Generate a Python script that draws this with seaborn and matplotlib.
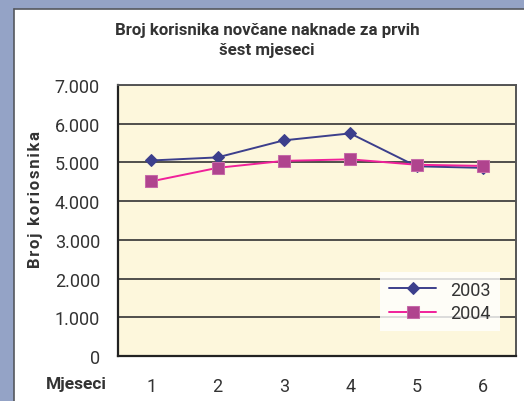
import numpy as np
import pandas as pd
import matplotlib.pyplot as plt
import matplotlib.patches as mpatches
import matplotlib.lines as mlines
from matplotlib.ticker import FuncFormatter, FixedLocator
import seaborn as sns

# Podaci (očitano s grafa)
mjeseci = [1, 2, 3, 4, 5, 6]
korisnici_2003 = [5050, 5130, 5570, 5750, 4900, 4860]
korisnici_2004 = [4510, 4860, 5040, 5080, 4940, 4910]

df = pd.DataFrame({
    'mjesec': mjeseci * 2,
    'broj': korisnici_2003 + korisnici_2004,
    'godina': ['2003'] * 6 + ['2004'] * 6,
})

sns.set_theme(style='white')
plt.rcParams['font.family'] = ['Roboto', 'DejaVu Sans']

fig = plt.figure(figsize=(5.24, 4.02), dpi=100)
fig.patch.set_facecolor('white')

# plavi okvir oko panela
blue = '#94a3c6'
fig.patches.append(mpatches.Rectangle((0, 0), 14 / 524, 1, transform=fig.transFigure,
                                      facecolor=blue, edgecolor='none', zorder=0))
fig.patches.append(mpatches.Rectangle((0, 1 - 10 / 402), 1, 10 / 402, transform=fig.transFigure,
                                      facecolor=blue, edgecolor='none', zorder=0))
fig.lines.append(mlines.Line2D([14 / 524, 14 / 524], [0, 1 - 10 / 402], transform=fig.transFigure,
                               color='#55585e', lw=1.2))
fig.lines.append(mlines.Line2D([14 / 524, 1], [1 - 10 / 402, 1 - 10 / 402], transform=fig.transFigure,
                               color='#55585e', lw=1.2))

ax = fig.add_axes([118 / 524, 45 / 402, 398 / 524, 271 / 402])
ax.set_facecolor('#fdf7dc')

sub03 = df[df['godina'] == '2003']
sub04 = df[df['godina'] == '2004']
sns.lineplot(data=sub03, x='mjesec', y='broj', ax=ax, color='#3c3f8c', lw=1.4,
             marker='D', markersize=6.5, markerfacecolor='#3c3f8c', markeredgecolor='#3c3f8c',
             label='2003', zorder=3)
sns.lineplot(data=sub04, x='mjesec', y='broj', ax=ax, color='#f0209a', lw=1.4,
             marker='s', markersize=8, markerfacecolor='#b0448e', markeredgecolor='#c66aa8',
             label='2004', zorder=4)

ax.set_xlim(0.5, 6.5)
ax.set_ylim(0, 7000)
ax.yaxis.set_major_locator(FixedLocator(np.arange(0, 7001, 1000)))
ax.yaxis.set_major_formatter(FuncFormatter(lambda v, p: '0' if v == 0 else f'{int(v):,}'.replace(',', '.')))
ax.set_xticks(mjeseci)
ax.set_xticks(np.arange(0.5, 6.6, 1), minor=True)
ax.tick_params(axis='x', which='major', length=0, pad=15, labelsize=13, labelcolor='#333333')
ax.tick_params(axis='x', which='minor', length=4, width=1.2, color='#333333', direction='out')
ax.tick_params(axis='y', length=5, width=1.2, color='#333333', direction='out', pad=8,
               labelsize=13, labelcolor='#333333')
ax.grid(axis='y', color='#333333', lw=1.2)
ax.set_axisbelow(True)
for side in ['left', 'bottom']:
    ax.spines[side].set_color('#222222')
    ax.spines[side].set_linewidth(1.6)
for side in ['top', 'right']:
    ax.spines[side].set_color('#555555')
    ax.spines[side].set_linewidth(1.4)

ax.set_xlabel('')
ax.set_ylabel('')

fig.text(267 / 524, 1 - 31 / 402, 'Broj korisnika novčane naknade za prvih', ha='center', va='center',
         fontsize=12.2, fontweight='bold', color='#333333')
fig.text(267 / 524, 1 - 51 / 402, 'šest mjeseci', ha='center', va='center',
         fontsize=12.2, fontweight='bold', color='#333333')
fig.text(36 / 524, 1 - 200 / 402, '\u200a'.join('Broj koriosnika'), rotation=90, ha='center', va='center',
         fontsize=12, fontweight='bold', color='#333333')
fig.text(76 / 524, 1 - 385 / 402, 'Mjeseci', ha='center', va='center',
         fontsize=12.5, fontweight='bold', color='#333333')

leg = ax.legend(loc='lower right', bbox_to_anchor=(0.96, 0.092), borderaxespad=0, frameon=True,
                fancybox=False, fontsize=13, handlelength=2.6, borderpad=0.5, labelspacing=0.3)
leg.get_frame().set_facecolor('white')
leg.get_frame().set_edgecolor('none')
for t in leg.get_texts():
    t.set_color('#333333')

fig.savefig('out.png', dpi=100)
